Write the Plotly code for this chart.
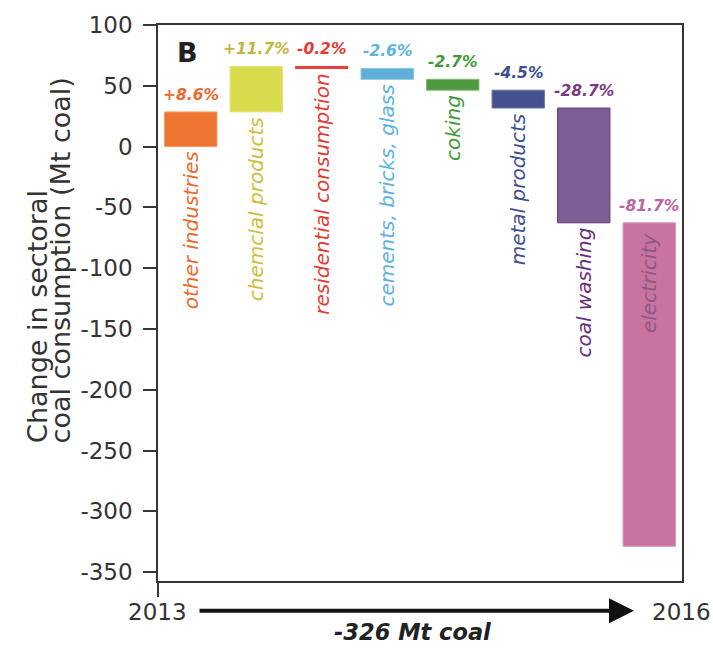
import numpy as np
import plotly.graph_objects as go

# ---------------- data ----------------
sectors = ["other industries", "chemclal products", "residential consumption",
           "cements, bricks, glass", "coking", "metal products",
           "coal washing", "electricity"]
changes = [28.5, 37.4, -1.6, -9.0, -8.9, -14.7, -94.4, -266.0]   # Mt coal
pct_labels = ["+8.6%", "+11.7%", "-0.2%", "-2.6%", "-2.7%", "-4.5%",
              "-28.7%", "-81.7%"]
y_ticks = [100, 50, 0, -50, -100, -150, -200, -250, -300, -350]
start_year, end_year = "2013", "2016"
total_label = "-326 Mt coal"
panel_label = "B"

# ---------------- styles ----------------
bar_colors = ["#EE7432", "#D8DB4B", "#EE3B3B", "#60AFD6",
              "#4E9A40", "#44518E", "#7D5F95", "#C873A0"]
bar_edges = ["#F39A66", "#E2E47C", "#EE3B3B", "#8CC6E3",
             "#7DB872", "#6C78AC", "#6B3A7E", "#D996BA"]
name_colors = ["#EA6A2C", "#CDBF3E", "#E83A32", "#5AB3E4",
               "#3F9A3A", "#3C4F94", "#6A2C7C", "#8A5A84"]
pct_colors = ["#EA6A2C", "#C4B53C", "#E83A32", "#5AB3E4",
              "#3F9A3A", "#3C4F94", "#7A3B84", "#B865A2"]
label_inside = [False] * 7 + [True]
FONT = "DejaVu Sans"
AX = "#3a3535"

W, H = 713, 648
L, R, T, B = 158, 31, 19, 67
pw, ph = W - L - R, H - T - B


def px_x(p):
    return (p - L) / pw


def px_y(p):
    return (H - B - p) / ph


x = np.arange(len(sectors))
changes_arr = np.array(changes, dtype=float)
bases = np.concatenate([[0.0], np.cumsum(changes_arr)[:-1]])
upper = np.maximum(bases, bases + changes_arr)
lower = np.minimum(bases, bases + changes_arr)

fig = go.Figure()
fig.add_trace(go.Bar(
    x=x, y=changes_arr, base=bases, width=0.8,
    marker=dict(color=bar_colors, line=dict(color=bar_edges, width=1)),
    showlegend=False, hoverinfo="skip",
))

ann = []
for i in range(len(sectors)):
    # percentage label above each bar
    ann.append(dict(
        x=x[i], y=upper[i], xref="x", yref="y", text=pct_labels[i],
        showarrow=False, xanchor="center", yanchor="bottom", yshift=6,
        font=dict(family=FONT, size=15.5, color=pct_colors[i],
                  weight="bold", style="italic"),
    ))
    # sector name, rotated
    if label_inside[i]:
        yy, shift = upper[i], -8
    else:
        yy, shift = lower[i], -3
    ann.append(dict(
        x=x[i], y=yy, xref="x", yref="y", text=sectors[i], textangle=-90,
        showarrow=False, xanchor="center", yanchor="top", yshift=shift,
        font=dict(family=FONT, size=20, color=name_colors[i], style="italic"),
    ))

# axis title (two left-aligned rotated lines)
ann.append(dict(x=px_x(38), y=px_y(444), xref="paper", yref="paper",
                text="Change in sectoral", textangle=-90, showarrow=False,
                xanchor="center", yanchor="bottom",
                font=dict(family=FONT, size=27, color="#333")))
ann.append(dict(x=px_x(60), y=px_y(444), xref="paper", yref="paper",
                text="coal consumption (Mt coal)", textangle=-90, showarrow=False,
                xanchor="center", yanchor="bottom",
                font=dict(family=FONT, size=27, color="#333")))

# panel letter
ann.append(dict(x=px_x(187), y=px_y(47), xref="paper", yref="paper",
                text=panel_label, showarrow=False, xanchor="center", yanchor="middle",
                font=dict(family=FONT, size=27, color="#231f20", weight="bold")))

# years and arrow
ann.append(dict(x=px_x(157), y=px_y(612), xref="paper", yref="paper",
                text=start_year, showarrow=False, xanchor="center", yanchor="middle",
                font=dict(family=FONT, size=23, color="#333")))
ann.append(dict(x=px_x(681), y=px_y(612), xref="paper", yref="paper",
                text=end_year, showarrow=False, xanchor="center", yanchor="middle",
                font=dict(family=FONT, size=23, color="#333")))
ann.append(dict(x=px_x(634), y=px_y(611), xref="paper", yref="paper",
                ax=198 - 634, ay=0, axref="pixel", ayref="pixel",
                text="", showarrow=True, arrowhead=2, arrowsize=1.25,
                arrowwidth=4, arrowcolor="#111", standoff=0, startstandoff=0))
ann.append(dict(x=px_x(412), y=px_y(633), xref="paper", yref="paper",
                text=total_label, showarrow=False, xanchor="center", yanchor="middle",
                font=dict(family=FONT, size=22.5, color="#222",
                          weight="bold", style="italic")))

fig.update_layout(
    width=W, height=H,
    margin=dict(l=L, r=R, t=T, b=B),
    paper_bgcolor="white", plot_bgcolor="white",
    annotations=ann,
    xaxis=dict(range=[-0.5, 7.5], showgrid=False, zeroline=False,
               showline=True, mirror=True, linecolor=AX, linewidth=1.5,
               tickmode="array", tickvals=[-0.5], showticklabels=False,
               ticks="outside", ticklen=14, tickwidth=1.5, tickcolor=AX),
    yaxis=dict(range=[-357.3, 100], showgrid=False, zeroline=False,
               showline=True, mirror=True, linecolor=AX, linewidth=1.5,
               tickmode="array", tickvals=y_ticks,
               ticktext=[str(v) for v in y_ticks],
               ticks="outside", ticklen=13, tickwidth=1.5, tickcolor=AX,
               ticklabelstandoff=6,
               tickfont=dict(family=FONT, size=23, color="#333")),
    bargap=0.2,
)

fig.write_html("out.html")
